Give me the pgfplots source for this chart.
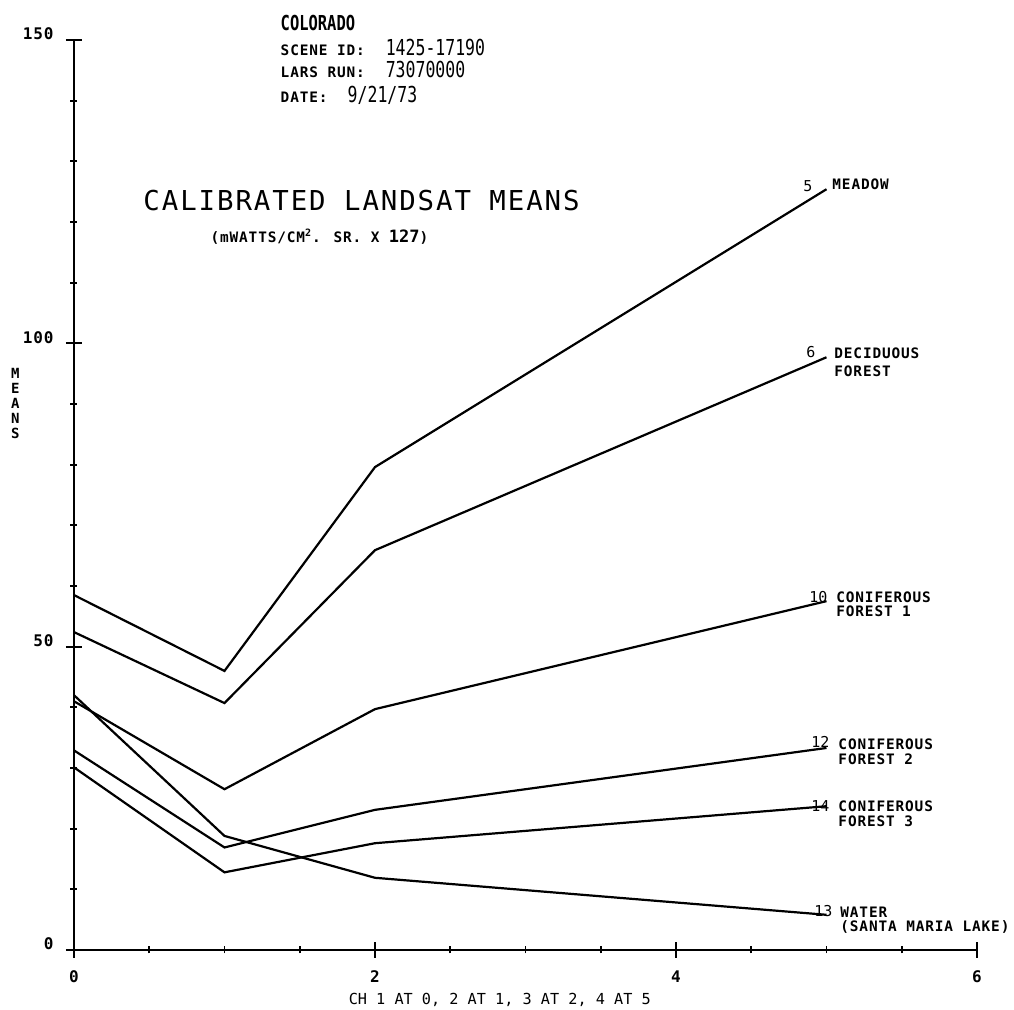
\documentclass[border=0pt]{standalone}
\usepackage{fontspec}
\usepackage{pgfplots}
\usepackage{pgfplotstable}
\pgfplotsset{compat=1.18}

\setmainfont{DejaVu Sans Mono}
\newfontfamily\plotlbl{DejaVu Sans Mono}[LetterSpace=6]
\newfontfamily\plotthin{DejaVu Sans Mono}
\newfontfamily\plottitle{DejaVu Sans Mono}[LetterSpace=7]
\newfontfamily\plotnarrow{DejaVu Sans Mono}[FakeStretch=0.75]

\newcommand\lbl{\plotlbl\bfseries\fontsize{7.2}{7.6}\selectfont}
\newcommand\numf{\plotthin\fontsize{7.5}{8}\selectfont}
\newcommand\ticklbl{\plotlbl\bfseries\fontsize{8}{9}\selectfont}
\newcommand\hdrbig{\plotnarrow\bfseries\fontsize{10.3}{11}\selectfont}
\newcommand\hdrnum{\plotnarrow\fontsize{11}{12}\selectfont}

% channel means, channels 1-4 plotted at 0, 1, 2, 5
\pgfplotstableread{
ch meadow decid conA conB conC water
0  58.5  52.4  41.0  32.9  30.1  42.0
1  46.0  40.7  26.5  16.9  12.8  18.8
2  79.6  65.9  39.7  23.1  17.6  11.9
5  125.4 97.7  57.5  33.3  23.7  5.8
}\means

\begin{document}
\begin{tikzpicture}
\useasboundingbox (-37pt,-30pt) rectangle (470pt,475pt);
\begin{axis}[
  at={(0,0)}, anchor=south west,
  scale only axis, width=451.5pt, height=455pt,
  xmin=0, xmax=6, ymin=0, ymax=150,
  axis lines=left,
  axis line style={-, line width=1.1pt, black},
  xtick={0,2,4,6}, ytick={0,50,100,150},
  minor x tick num=3, minor y tick num=4,
  tick align=center, major tick length=8pt, minor tick length=3.5pt,
  tick style={black, line width=0.9pt},
  /pgf/number format/assume math mode=true,
  tick label style={font=\ticklbl},
  xticklabel style={anchor=north, inner sep=0pt, yshift=-6pt},
  yticklabel style={anchor=base east, inner sep=0pt, xshift=-6pt},
  clip=false,
]
\addplot[black, line width=1.1pt, sharp plot] table[x=ch, y=meadow] {\means};
\addplot[black, line width=1.1pt, sharp plot] table[x=ch, y=decid] {\means};
\addplot[black, line width=1.1pt, sharp plot] table[x=ch, y=conA] {\means};
\addplot[black, line width=1.1pt, sharp plot] table[x=ch, y=conB] {\means};
\addplot[black, line width=1.1pt, sharp plot] table[x=ch, y=conC] {\means};
\addplot[black, line width=1.1pt, sharp plot] table[x=ch, y=water] {\means};

% header block
\node[anchor=base west, inner sep=0, font=\hdrbig] at (axis cs:1.371,151.6) {COLORADO};
\node[anchor=base west, inner sep=0, font=\lbl] at (axis cs:1.371,147.4) {SCENE ID:};
\node[anchor=base west, inner sep=0, font=\hdrnum] at (axis cs:2.069,147.4) {1425-17190};
\node[anchor=base west, inner sep=0, font=\lbl] at (axis cs:1.371,143.8) {LARS RUN:};
\node[anchor=base west, inner sep=0, font=\hdrnum] at (axis cs:2.069,143.8) {73070000};
\node[anchor=base west, inner sep=0, font=\lbl] at (axis cs:1.371,139.7) {DATE:};
\node[anchor=base west, inner sep=0, font=\hdrnum] at (axis cs:1.816,139.7) {9/21/73};

% title
\node[anchor=base west, inner sep=0, font=\plottitle\fontsize{13.7}{14}\selectfont]
  at (axis cs:0.459,121.9) {CALIBRATED LANDSAT MEANS};
\node[anchor=base west, inner sep=0, font=\lbl]
  at (axis cs:0.905,116.6) {(mWATTS/CM\textsuperscript{2}. SR. X {\plotthin\fontsize{8.5}{9}\selectfont 127})};

% axis titles
\node[align=center, inner sep=0, font=\plotthin\bfseries\fontsize{7}{7.5}\selectfont]
  at (axis cs:-0.39,90.1) {M\\E\\A\\N\\S};
\node[anchor=base west, inner sep=0, font=\plotthin\fontsize{7.6}{8}\selectfont]
  at (axis cs:1.823,-9.06) {CH 1 AT 0, 2 AT 1, 3 AT 2, 4 AT 5};

% class labels at the line ends
\node[anchor=base west, inner sep=0, font=\numf] at (axis cs:4.844,125.0) {5};
\node[anchor=base west, inner sep=0, font=\lbl] at (axis cs:5.037,125.4) {MEADOW};

\node[anchor=base west, inner sep=0, font=\numf] at (axis cs:4.864,97.7) {6};
\node[anchor=base west, inner sep=0, font=\lbl] at (axis cs:5.050,97.5) {DECIDUOUS};
\node[anchor=base west, inner sep=0, font=\lbl] at (axis cs:5.050,94.6) {FOREST};

\node[anchor=base west, inner sep=0, font=\numf] at (axis cs:4.884,57.2) {10};
\node[anchor=base west, inner sep=0, font=\lbl] at (axis cs:5.063,57.3) {CONIFEROUS};
\node[anchor=base west, inner sep=0, font=\lbl] at (axis cs:5.063,54.9) {FOREST 1};

\node[anchor=base west, inner sep=0, font=\numf] at (axis cs:4.897,33.3) {12};
\node[anchor=base west, inner sep=0, font=\lbl] at (axis cs:5.077,33.1) {CONIFEROUS};
\node[anchor=base west, inner sep=0, font=\lbl] at (axis cs:5.077,30.6) {FOREST 2};

\node[anchor=base west, inner sep=0, font=\numf] at (axis cs:4.897,22.9) {14};
\node[anchor=base west, inner sep=0, font=\lbl] at (axis cs:5.077,22.9) {CONIFEROUS};
\node[anchor=base west, inner sep=0, font=\lbl] at (axis cs:5.077,20.4) {FOREST 3};

\node[anchor=base west, inner sep=0, font=\numf] at (axis cs:4.917,5.6) {13};
\node[anchor=base west, inner sep=0, font=\lbl] at (axis cs:5.090,5.4) {WATER};
\node[anchor=base west, inner sep=0, font=\lbl] at (axis cs:5.090,3.0) {(SANTA MARIA LAKE)};
\end{axis}
\end{tikzpicture}
\end{document}
